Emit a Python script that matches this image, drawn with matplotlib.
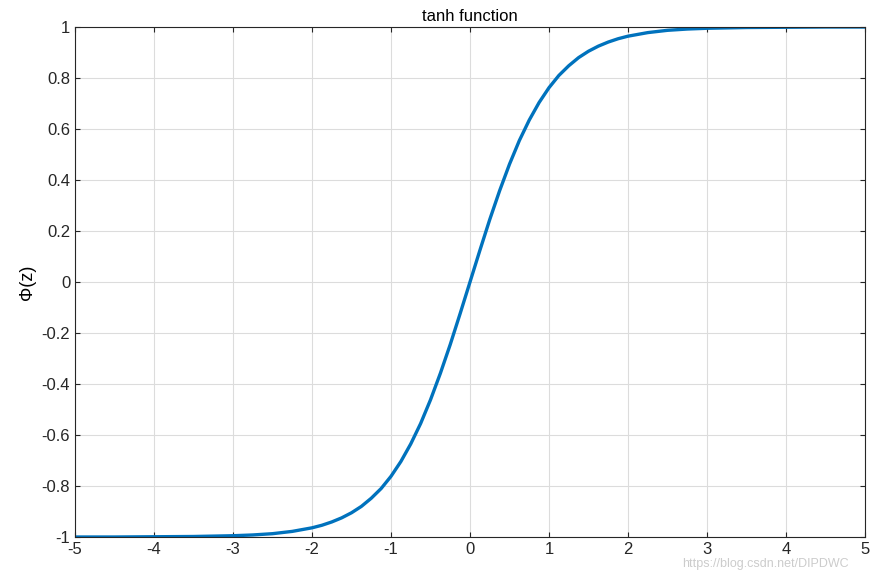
import matplotlib.pyplot as plt

plt.rcParams['font.family'] = ['Liberation Sans', 'DejaVu Sans']

# values (positive half; curve is odd-symmetric)
z_pos = [0.0, 0.125, 0.25, 0.375, 0.5, 0.625, 0.75, 0.875, 1.0, 1.125, 1.25,
         1.375, 1.5, 1.625, 1.75, 1.875, 2.0, 2.25, 2.5, 2.75,
         3.0, 3.5, 4.0, 4.5, 5.0]
phi_pos = [0.0, 0.124, 0.245, 0.358, 0.462, 0.555, 0.635, 0.704, 0.762,
           0.810, 0.848, 0.880, 0.905, 0.925, 0.941, 0.954, 0.964,
           0.978, 0.987, 0.992, 0.995, 0.998, 0.999, 1.0, 1.0]
z = [-v for v in z_pos[:0:-1]] + z_pos
phi = [-v for v in phi_pos[:0:-1]] + phi_pos

x_ticks = [-5, -4, -3, -2, -1, 0, 1, 2, 3, 4, 5]
y_ticks = [-1, -0.8, -0.6, -0.4, -0.2, 0, 0.2, 0.4, 0.6, 0.8, 1]

fig = plt.figure(figsize=(8.75, 5.72), dpi=100)
ax = fig.add_axes([75 / 875, 35 / 572, 790 / 875, 510 / 572])
ax.plot(z, phi, color='#0072BD', lw=2.4, solid_joinstyle='round')
ax.set_xlim(-5, 5)
ax.set_ylim(-1, 1)
ax.set_xticks(x_ticks)
ax.set_yticks(y_ticks)
ax.set_xticklabels([f'{t:g}' for t in x_ticks])
ax.set_yticklabels([f'{t:g}' for t in y_ticks])
ax.grid(True, color='#dcdcdc', lw=0.8)
ax.tick_params(direction='in', top=True, right=True, labelsize=12, colors='#262626')
for s in ax.spines.values():
    s.set_color('#262626')
    s.set_linewidth(0.8)
ax.set_title('tanh function', fontsize=12, pad=4)
ax.set_ylabel('Φ(z)', fontsize=13)
fig.text(0.97, 0.003, 'https://blog.csdn.net/DIPDWC', color='#cccccc',
         fontsize=9, ha='right', va='bottom')
fig.savefig('out.png', dpi=100)
